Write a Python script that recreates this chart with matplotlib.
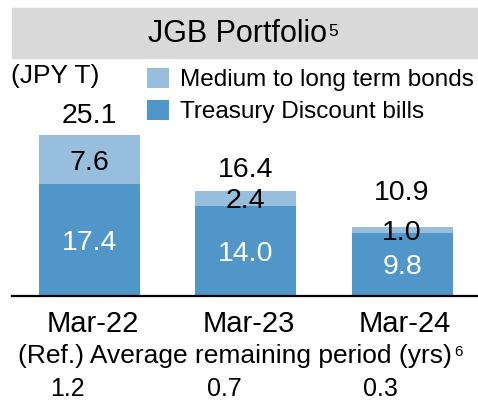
import numpy as np
import matplotlib.pyplot as plt
from matplotlib.patches import Rectangle
from matplotlib.transforms import blended_transform_factory

plt.rcParams['font.family'] = ['Liberation Sans', 'DejaVu Sans']

# data
periods = ["Mar-22", "Mar-23", "Mar-24"]
tdb = [17.4, 14.0, 9.8]          # Treasury Discount bills
medium_long = [7.6, 2.4, 1.0]    # Medium to long term bonds
totals = [25.1, 16.4, 10.9]
avg_period = ["1.2", "0.7", "0.3"]

c_dark = "#5096c9"
c_light = "#97bedc"

W, H = 478, 417
fig = plt.figure(figsize=(W / 100, H / 100), dpi=100)

def fx(px):
    return px / W

def fy(py):
    return 1 - py / H

# title banner
fig.patches.append(Rectangle((fx(12), fy(58)), fx(466), 50 / H,
                             transform=fig.transFigure, color="#d9d9d9", zorder=0))
fig.text(fx(237), fy(34), "JGB Portfolio", ha="center", va="center", fontsize=22)
fig.text(fx(328), fy(31), "5", ha="left", va="center", fontsize=12.5)

# bar axes
ax = fig.add_axes([fx(12), fy(296), fx(466), (296 - 60) / H])
x = np.arange(len(periods))
w = 0.646
b1 = ax.bar(x, tdb, w, color=c_dark, label="Treasury Discount bills")
b2 = ax.bar(x, medium_long, w, bottom=tdb, color=c_light, label="Medium to long term bonds")
ax.set_xlim(-0.496, 2.486)
ax.set_ylim(0, 36.7)

for s in ["top", "left", "right"]:
    ax.spines[s].set_visible(False)
ax.spines["bottom"].set_linewidth(1.6)
ax.set_yticks([])
ax.set_xticks(x + 0.02)
ax.set_xticklabels(periods, fontsize=21)
ax.tick_params(axis="x", length=0, pad=10)

# value labels
for i in range(len(periods)):
    ax.text(x[i], tdb[i] / 2, f"{tdb[i]:.1f}", ha="center", va="center_baseline",
            color="white", fontsize=20.5)
    ax.text(x[i], tdb[i] + medium_long[i] / 2, f"{medium_long[i]:.1f}", ha="center",
            va="center_baseline", color="black", fontsize=20.5)

tot_off = [22, 24, 37]  # px above bar top
for i in range(len(periods)):
    ax.annotate(f"{totals[i]:.1f}", (x[i], tdb[i] + medium_long[i]), xytext=(0, tot_off[i] * 0.72),
                textcoords="offset points", ha="center", va="center_baseline", fontsize=20.5)

# legend
handles, labels = ax.get_legend_handles_labels()
leg = fig.legend(handles[::-1], labels[::-1], loc="upper left",
                 bbox_to_anchor=(fx(142), fy(63)), frameon=False, fontsize=17.5,
                 handlelength=0.9, handleheight=0.9, handletextpad=0.45,
                 labelspacing=0.35, borderpad=0.2, borderaxespad=0)

fig.text(fx(11), fy(76), "(JPY T)", ha="left", va="center", fontsize=19)

# reference row
fig.text(fx(235), fy(356), "(Ref.) Average remaining period (yrs)",
         ha="center", va="center", fontsize=19)
fig.text(fx(454), fy(352), "6", ha="left", va="center", fontsize=11)
tr = blended_transform_factory(ax.transData, fig.transFigure)
for i in range(len(periods)):
    ax.text(x[i] - 0.14, fy(389), avg_period[i], transform=tr, ha="center",
            va="center", fontsize=18)

fig.savefig("out.png", dpi=100)
